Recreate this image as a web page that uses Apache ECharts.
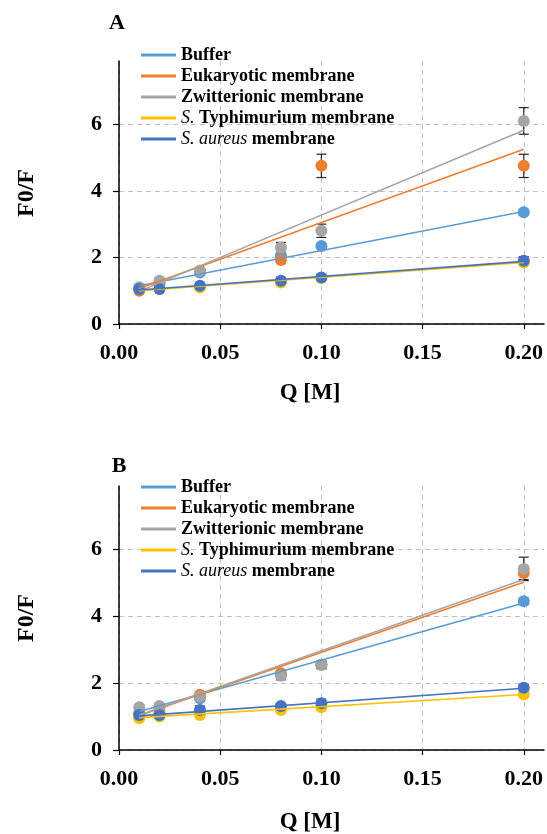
<!DOCTYPE html>
<html>
<head>
<meta charset="utf-8">
<script src="https://cdn.jsdelivr.net/npm/echarts@6/dist/echarts.min.js"></script>
<style>
html, body { margin: 0; padding: 0; background: #fff; }
#chart { width: 547px; height: 834px; }
</style>
</head>
<body>
<div id="chart"></div>
<script>
// quencher concentrations, Q [M]
var qValues = [0.01, 0.02, 0.04, 0.08, 0.10, 0.20];
var seriesNames = ['Buffer', 'Eukaryotic membrane', 'Zwitterionic membrane', 'S. Typhimurium membrane', 'S. aureus membrane'];
var colors = ['#5B9BD5', '#ED7D31', '#A5A5A5', '#FFC000', '#4472C4'];
var xTicks = [0, 0.05, 0.10, 0.15, 0.20];
var yTicks = [0, 2, 4, 6];

// panel A - F0/F
var bufferA = [1.10, 1.22, 1.55, 2.05, 2.34, 3.36];
var eukA = [1.00, 1.20, 1.60, 1.92, 4.75, 4.75];
var zwitA = [1.10, 1.30, 1.60, 2.30, 2.80, 6.10];
var typhiA = [1.05, 1.05, 1.10, 1.25, 1.38, 1.85];
var aureusA = [1.05, 1.05, 1.15, 1.30, 1.40, 1.90];
// panel A - error (+/-)
var bufferErrA = [0.05, 0.05, 0.05, 0.08, 0.08, 0.08];
var eukErrA = [0.05, 0.05, 0.08, 0.08, 0.35, 0.35];
var zwitErrA = [0.05, 0.08, 0.08, 0.15, 0.20, 0.40];
var typhiErrA = [0.04, 0.04, 0.04, 0.05, 0.05, 0.06];
var aureusErrA = [0.05, 0.05, 0.06, 0.10, 0.08, 0.12];
// panel A - linear fit at q = 0.01 and q = 0.20
var fitA = [[1.15, 3.38], [1.07, 5.25], [0.98, 5.82], [1.00, 1.85], [1.02, 1.88]];

// panel B - F0/F
var bufferB = [1.10, 1.28, 1.55, 2.25, 2.55, 4.45];
var eukB = [1.00, 1.10, 1.65, 2.30, 2.55, 5.30];
var zwitB = [1.28, 1.32, 1.60, 2.22, 2.55, 5.42];
var typhiB = [0.95, 1.00, 1.05, 1.20, 1.28, 1.66];
var aureusB = [1.05, 1.05, 1.20, 1.32, 1.40, 1.86];
// panel B - error (+/-)
var bufferErrB = [0.05, 0.05, 0.05, 0.08, 0.08, 0.10];
var eukErrB = [0.05, 0.05, 0.08, 0.08, 0.10, 0.20];
var zwitErrB = [0.06, 0.06, 0.08, 0.12, 0.12, 0.35];
var typhiErrB = [0.04, 0.04, 0.04, 0.05, 0.05, 0.06];
var aureusErrB = [0.05, 0.05, 0.12, 0.06, 0.12, 0.10];
var fitB = [[1.15, 4.40], [1.03, 5.02], [1.05, 5.10], [0.97, 1.66], [1.02, 1.85]];

var valuesA = [bufferA, eukA, zwitA, typhiA, aureusA];
var errorsA = [bufferErrA, eukErrA, zwitErrA, typhiErrA, aureusErrA];
var valuesB = [bufferB, eukB, zwitB, typhiB, aureusB];
var errorsB = [bufferErrB, eukErrB, zwitErrB, typhiErrB, aureusErrB];

var serif = '"Liberation Serif", "DejaVu Serif", serif';

var myChart = echarts.init(document.getElementById('chart'));

function renderErrorBar(params, api) {
    var x = api.value(0);
    var top = api.coord([x, api.value(2)]);
    var bottom = api.coord([x, api.value(1)]);
    var w = 5;
    var style = { stroke: '#262626', lineWidth: 1.2 };
    return {
        type: 'group',
        children: [
            { type: 'line', shape: { x1: top[0], y1: top[1], x2: bottom[0], y2: bottom[1] }, style: style },
            { type: 'line', shape: { x1: top[0] - w, y1: top[1], x2: top[0] + w, y2: top[1] }, style: style },
            { type: 'line', shape: { x1: bottom[0] - w, y1: bottom[1], x2: bottom[0] + w, y2: bottom[1] }, style: style }
        ]
    };
}

function buildSeries(panel, values, errors, fits) {
    var out = [];
    for (var i = 0; i < seriesNames.length; i++) {
        // error bars sit under the markers, so the tiny ones disappear like in the original
        out.push({
            name: seriesNames[i],
            type: 'custom',
            xAxisIndex: panel,
            yAxisIndex: panel,
            renderItem: renderErrorBar,
            z: 2,
            data: qValues.map(function (q, j) {
                return [q, values[i][j] - errors[i][j], values[i][j] + errors[i][j]];
            })
        });
        out.push({
            name: seriesNames[i],
            type: 'scatter',
            xAxisIndex: panel,
            yAxisIndex: panel,
            symbolSize: 12,
            itemStyle: { color: colors[i], opacity: 1 },
            z: 3,
            data: qValues.map(function (q, j) { return [q, values[i][j]]; })
        });
        out.push({
            name: seriesNames[i],
            type: 'line',
            xAxisIndex: panel,
            yAxisIndex: panel,
            showSymbol: false,
            silent: true,
            z: 5,
            lineStyle: { color: colors[i], width: 1.6 },
            data: [[qValues[0], fits[i][0]], [qValues[qValues.length - 1], fits[i][1]]]
        });
    }
    return out;
}

var gridLine = { show: true, lineStyle: { color: '#c0c0c0', type: [5, 4], width: 1 } };

function xAxisFor(panel) {
    return {
        type: 'value',
        gridIndex: panel,
        min: 0,
        max: 0.21,
        interval: 0.05,
        axisLine: { lineStyle: { color: '#000', width: 1.5 } },
        axisTick: { show: true, length: 5, customValues: xTicks, lineStyle: { color: '#000', width: 1.2 } },
        axisLabel: {
            customValues: xTicks,
            formatter: function (v) { return v.toFixed(2); },
            margin: 18,
            fontFamily: serif, fontWeight: 'bold', fontSize: 22, color: '#000'
        },
        splitLine: gridLine
    };
}

function yAxisFor(panel) {
    return {
        type: 'value',
        gridIndex: panel,
        min: 0,
        max: 7.9,
        interval: 2,
        axisLine: { show: true, lineStyle: { color: '#000', width: 1.5 } },
        axisTick: { show: true, length: 6, customValues: yTicks, lineStyle: { color: '#000', width: 1.2 } },
        axisLabel: {
            customValues: yTicks,
            margin: 17,
            fontFamily: serif, fontWeight: 'bold', fontSize: 22, color: '#000'
        },
        splitLine: gridLine
    };
}

function legendFor(top) {
    return {
        orient: 'vertical',
        left: 141,
        top: top,
        padding: 0,
        itemGap: 3,
        itemWidth: 35,
        itemHeight: 3,
        selectedMode: false,
        data: seriesNames.map(function (n, i) {
            return { name: n, icon: 'rect', itemStyle: { color: colors[i] } };
        }),
        formatter: function (name) {
            if (name.indexOf('S. Typhimurium') === 0) return '{i|S.} Typhimurium membrane';
            if (name.indexOf('S. aureus') === 0) return '{i|S. aureus} membrane';
            return name;
        },
        textStyle: {
            fontFamily: serif, fontWeight: 'bold', fontSize: 18, lineHeight: 16, color: '#000',
            rich: { i: { fontFamily: serif, fontStyle: 'italic', fontWeight: 'normal', fontSize: 18, lineHeight: 16, color: '#000' } }
        }
    };
}

function label(text, x, y, size, rotate) {
    return {
        type: 'text',
        x: x,
        y: y,
        rotation: rotate ? Math.PI / 2 : 0,
        style: {
            text: text,
            fontFamily: serif, fontWeight: 'bold', fontSize: size, fill: '#000',
            align: 'center', verticalAlign: 'middle'
        }
    };
}

var option = {
    animation: false,
    grid: [
        { left: 119, top: 61, width: 425, height: 263 },
        { left: 119, top: 486, width: 425, height: 264 }
    ],
    legend: [legendFor(46), legendFor(478)],
    xAxis: [xAxisFor(0), xAxisFor(1)],
    yAxis: [yAxisFor(0), yAxisFor(1)],
    graphic: [
        label('A', 117, 23, 22, false),
        label('B', 119, 466, 22, false),
        label('F0/F', 27, 193, 24, true),
        label('F0/F', 27, 618, 24, true),
        label('Q [M]', 310, 393, 23, false),
        label('Q [M]', 310, 822, 23, false)
    ],
    series: buildSeries(0, valuesA, errorsA, fitA).concat(buildSeries(1, valuesB, errorsB, fitB))
};

myChart.setOption(option);
</script>
</body>
</html>
